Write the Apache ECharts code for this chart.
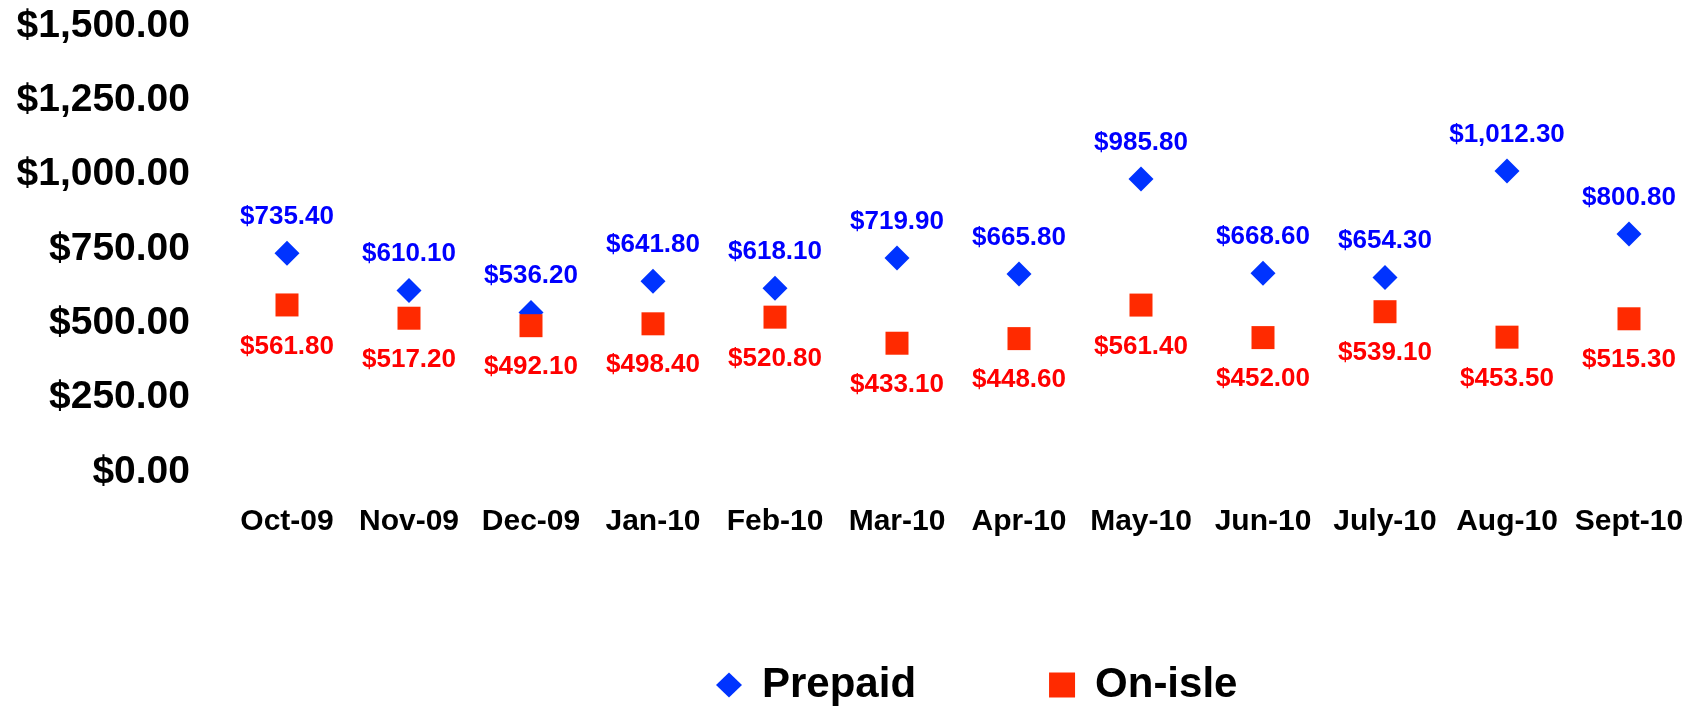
<!DOCTYPE html>
<html>
<head>
<meta charset="utf-8">
<script src="https://cdn.jsdelivr.net/npm/echarts@6/dist/echarts.min.js"></script>
<style>
html,body{margin:0;padding:0;background:#fff;}
#chart{width:1705px;height:707px;}
</style>
</head>
<body>
<div id="chart"></div>
<script>
var categories = ['Oct-09','Nov-09','Dec-09','Jan-10','Feb-10','Mar-10','Apr-10','May-10','Jun-10','July-10','Aug-10','Sept-10'];
var prepaid = [735.4, 610.1, 536.2, 641.8, 618.1, 719.9, 665.8, 985.8, 668.6, 654.3, 1012.3, 800.8];
var onIsle = [561.8, 517.2, 492.1, 498.4, 520.8, 433.1, 448.6, 561.4, 452.0, 539.1, 453.5, 515.3];
var seriesNames = ['Prepaid', 'On-isle'];
var yTicks = {min: 0, max: 1500, interval: 250};

function money(v) {
  return '$' + Number(v).toLocaleString('en-US', {minimumFractionDigits: 2, maximumFractionDigits: 2});
}
var FONT = '"Liberation Sans", Arial, Helvetica, sans-serif';

var chart = echarts.init(document.getElementById('chart'));
chart.setOption({
  animation: false,
  backgroundColor: '#ffffff',
  grid: {left: 226, right: 15, top: 26, bottom: 235, containLabel: false},
  legend: {
    left: 711,
    top: 659,
    itemWidth: 26,
    itemHeight: 25,
    itemGap: 133,
    textStyle: {fontFamily: FONT, fontWeight: 'bold', fontSize: 42, color: '#000', padding: [0, 0, 0, 15]},
    data: [
      {name: seriesNames[0], icon: 'diamond', itemStyle: {color: '#0033FF', opacity: 1}},
      {name: seriesNames[1], icon: 'rect', itemStyle: {color: '#FF2A00', opacity: 1}}
    ]
  },
  xAxis: {
    type: 'category',
    data: categories,
    boundaryGap: true,
    axisLine: {show: false},
    axisTick: {show: false},
    splitLine: {show: false},
    axisLabel: {fontFamily: FONT, fontWeight: 'bold', fontSize: 30, color: '#000', margin: 35, interval: 0}
  },
  yAxis: {
    type: 'value',
    min: yTicks.min,
    max: yTicks.max,
    interval: yTicks.interval,
    axisLine: {show: false},
    axisTick: {show: false},
    splitLine: {show: false},
    axisLabel: {fontFamily: FONT, fontWeight: 'bold', fontSize: 39, color: '#000', margin: 36, formatter: money}
  },
  series: [
    {
      name: seriesNames[0],
      type: 'scatter',
      data: prepaid,
      symbol: 'diamond',
      symbolSize: 25,
      itemStyle: {color: '#0033FF', opacity: 1},
      label: {
        show: true, position: 'top', distance: 11,
        fontFamily: FONT, fontWeight: 'bold', fontSize: 26, color: '#0000FF',
        formatter: function (p) { return money(p.value); }
      }
    },
    {
      name: seriesNames[1],
      type: 'scatter',
      data: onIsle,
      symbol: 'rect',
      symbolSize: 23,
      itemStyle: {color: '#FF2A00', opacity: 1},
      label: {
        show: true, position: 'bottom', distance: 17,
        fontFamily: FONT, fontWeight: 'bold', fontSize: 26, color: '#FF0000',
        formatter: function (p) { return money(p.value); }
      }
    }
  ]
});
</script>
</body>
</html>
